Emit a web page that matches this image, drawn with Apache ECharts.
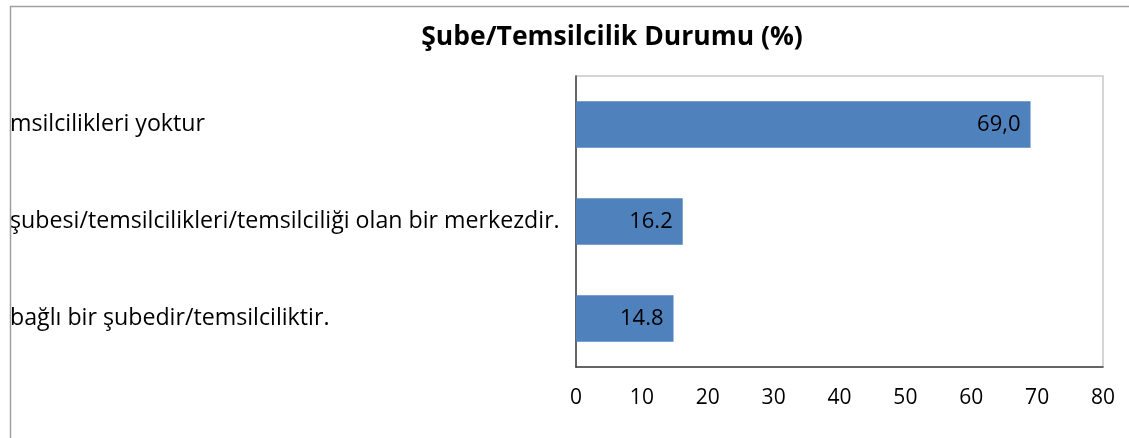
<!DOCTYPE html>
<html>
<head>
<meta charset="utf-8">
<script src="https://cdn.jsdelivr.net/npm/echarts@6/dist/echarts.min.js"></script>
<style>
html,body{margin:0;padding:0;background:#fff;}
#c{width:1129px;height:438px;}
</style>
</head>
<body>
<div id="c"></div>
<script>
var title = "Şube/Temsilcilik Durumu (%)";
var categories = [
  "msilcilikleri yoktur",
  "şubesi/temsilcilikleri/temsilciliği olan bir merkezdir.",
  "bağlı bir şubedir/temsilciliktir."
];
var values = [69.0, 16.2, 14.8];
var valueLabels = ["69,0", "16.2", "14.8"];
var xTicks = [0, 10, 20, 30, 40, 50, 60, 70, 80];

var FONT = "'Open Sans', sans-serif";
var chart = echarts.init(document.getElementById('c'), null, {renderer: 'canvas'});
chart.setOption({
  animation: false,
  backgroundColor: '#fff',
  title: {
    text: title,
    left: 607, top: 19, textAlign: 'center',
    textStyle: {fontFamily: FONT, fontWeight: 'bold', fontSize: 26.5, color: '#000'}
  },
  graphic: [{
    type: 'rect', left: 8, top: 4, z: -1,
    shape: {width: 1300, height: 600},
    style: {fill: 'none', stroke: '#a0a0a0', lineWidth: 1.5}
  }],
  grid: {
    left: 576, right: 26, top: 76, bottom: 71,
    show: true, borderColor: '#c8c8c8', borderWidth: 1.5
  },
  xAxis: {
    type: 'value', min: xTicks[0], max: xTicks[xTicks.length - 1], interval: 10,
    splitLine: {show: false},
    axisLine: {show: true, lineStyle: {color: '#404040', width: 1.5}},
    axisTick: {show: false},
    axisLabel: {
      margin: 21, fontFamily: FONT, fontSize: 21, color: '#000',
      formatter: function (v) { return xTicks.indexOf(v) >= 0 ? String(v) : ''; }
    }
  },
  yAxis: {
    type: 'category', data: categories, inverse: true,
    axisLine: {show: true, lineStyle: {color: '#404040', width: 1.5}},
    axisTick: {show: false},
    axisLabel: {
      align: 'left', margin: 566, fontFamily: FONT, fontSize: 23.2, color: '#000'
    }
  },
  series: [{
    type: 'bar', data: values, barWidth: '48%',
    itemStyle: {color: '#4f81bd'},
    label: {
      show: true, position: 'insideRight', distance: 10,
      fontFamily: FONT, fontSize: 22, color: '#000',
      formatter: function (p) { return valueLabels[p.dataIndex]; }
    }
  }]
});
</script>
</body>
</html>
